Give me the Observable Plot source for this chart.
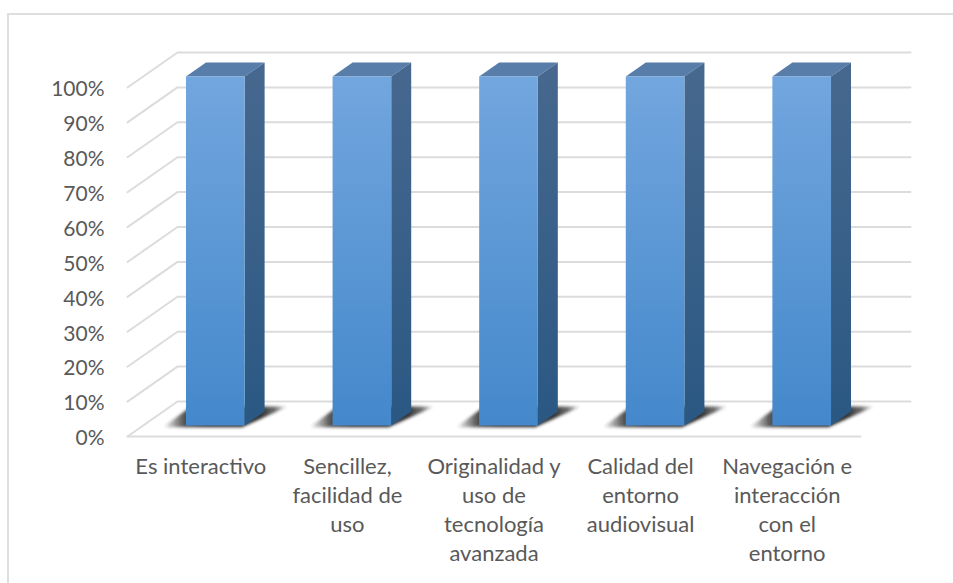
<!DOCTYPE html>
<html><head><meta charset="utf-8">
<script src="https://cdn.jsdelivr.net/npm/d3@7"></script>
<script src="https://cdn.jsdelivr.net/npm/@observablehq/plot@0.6"></script>
<style>
html,body{margin:0;padding:0;background:#fff;width:953px;height:583px;overflow:hidden}
#frame{position:absolute;left:6.5px;top:13px;width:1000px;height:700px;border:2px solid #dedede;box-sizing:border-box}
#chart{position:absolute;left:0;top:0}
</style></head><body><div id="frame"></div><div id="chart"></div>
<script>
const categories = ["Es interactivo","Sencillez,\nfacilidad de\nuso","Originalidad y\nuso de\ntecnología\navanzada","Calidad del\nentorno\naudiovisual","Navegación e\ninteracción\ncon el\nentorno"];
const values = [100,100,100,100,100];
const yTicks = [0,10,20,30,40,50,60,70,80,90,100];

// oblique projection: depth z (0 front, 1 back) shifts along both axes
const skewX = 0.341, skewY = 10.03;
const zFront = 0.3, zBack = 0.7, gapL = 0.3, gapR = 0.7;
const px = (i, z) => i + z * skewX;
const py = (v, z) => v + z * skewY;

const bars = categories.map((c, i) => ({c, i, v: values[i]}));
const wall = yTicks.flatMap(t => [
  {t, x: px(0,0), y: py(t,0)}, {t, x: px(0,1), y: py(t,1)}, {t, x: px(5,1), y: py(t,1)}
]);
const floorFront = [{x: px(0,0), y: 0},{x: px(5,0), y: 0}];

const side = bars.flatMap(b => [
  {i:b.i, x: px(b.i+gapR,zFront), y1: py(0,zFront), y2: py(b.v,zFront)},
  {i:b.i, x: px(b.i+gapR,zBack),  y1: py(0,zBack),  y2: py(b.v,zBack)}
]);
const top_ = bars.flatMap(b => [
  {i:b.i, y: py(b.v,zFront), x1: px(b.i+gapL,zFront), x2: px(b.i+gapR,zFront)},
  {i:b.i, y: py(b.v,zBack),  x1: px(b.i+gapL,zBack),  x2: px(b.i+gapR,zBack)}
]);
const shadow = bars.flatMap(b => [
  {i:b.i, y: py(0,0.25), x1: px(b.i+gapL-0.14,0.25), x2: px(b.i+gapR,0.25)},
  {i:b.i, y: py(0,0.84), x1: px(b.i+gapL-0.15,0.84), x2: px(b.i+gapR+0.11,0.84)}
]);

const defs = () => {
  const s = d3.create("svg:defs");
  const grad = (id, a, b) => {
    const g = s.append("linearGradient").attr("id", id).attr("x1",0).attr("y1",0).attr("x2",0).attr("y2",1);
    g.append("stop").attr("offset",0).attr("stop-color",a);
    g.append("stop").attr("offset",1).attr("stop-color",b);
  };
  grad("gf","#72a6de","#4488cb");
  grad("gs","#47688f","#2a5883");
  const h = s.append("linearGradient").attr("id","gshadow").attr("x1",0).attr("y1",0).attr("x2",1).attr("y2",0);
  [[0,0],[0.17,0.8],[0.35,0.95],[0.78,0.95],[0.9,0.65],[1,0]].forEach(([o,a]) =>
    h.append("stop").attr("offset",o).attr("stop-color","#262626").attr("stop-opacity",a));
  s.append("filter").attr("id","blur").attr("x","-20%").attr("y","-40%").attr("width","140%").attr("height","180%")
   .append("feGaussianBlur").attr("stdDeviation",1.4);
  return s.node();
};
const blur = (i,s,v,d,c,next) => { const g = next(i,s,v,d,c); g.setAttribute("filter","url(#blur)"); return g; };

const plot = Plot.plot({
  width: 953, height: 583,
  marginLeft: 127, marginRight: 93, marginTop: 87, marginBottom: 147,
  style: {background:"transparent", fontFamily:"Lato, sans-serif", color:"#595959", overflow:"visible"},
  x: {domain:[0,5], axis:null},
  y: {domain:[0,100], axis:null},
  marks: [
    defs,
    Plot.line(wall, {x:"x", y:"y", z:"t", stroke:"#dcdcdc", strokeWidth:2}),
    Plot.line(floorFront, {x:"x", y:"y", stroke:"#dcdcdc", strokeWidth:2}),
    Plot.areaX(shadow, {y:"y", x1:"x1", x2:"x2", z:"i", fill:"url(#gshadow)", curve:"linear", render:blur}),
    Plot.areaX(top_, {y:"y", x1:"x1", x2:"x2", z:"i", fill:"#587da9", curve:"linear"}),
    Plot.areaY(side, {x:"x", y1:"y1", y2:"y2", z:"i", fill:"url(#gs)", curve:"linear"}),
    Plot.rectY(bars, {x1:d=>px(d.i+gapL,zFront), x2:d=>px(d.i+gapR,zFront), y1:py(0,zFront), y2:d=>py(d.v,zFront), fill:"url(#gf)"}),
    Plot.axisY({ticks:yTicks, tickSize:0, tickPadding:23, dy:2, tickFormat:d=>d+"%", fontSize:21, label:null, color:"#595959"}),
    Plot.axisX({ticks:categories.map((c,i)=>i+0.5), tickSize:0, tickPadding:17, tickFormat:(d,i)=>categories[i], fontSize:22, lineHeight:1.32, label:null, color:"#595959", textOverflow:null, lineWidth:Infinity})
  ]
});
document.getElementById("chart").append(plot);
</script></body></html>
